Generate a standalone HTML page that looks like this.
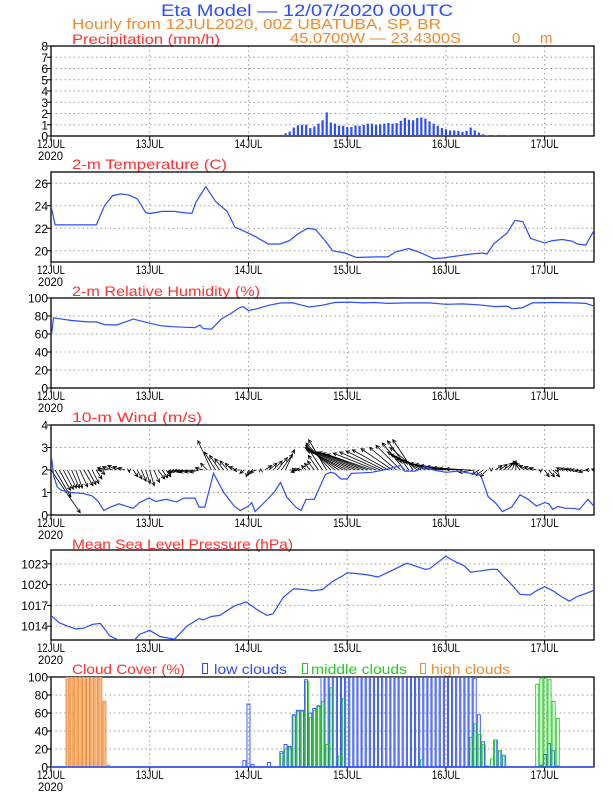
<!DOCTYPE html>
<html><head><meta charset="utf-8"><style>
html,body{margin:0;padding:0;background:#fff}
svg{display:block;font-family:"Liberation Sans",sans-serif}
</style></head><body>
<svg id="chart" width="612" height="792" viewBox="0 0 612 792" xmlns="http://www.w3.org/2000/svg">
<text x="161" y="16" font-size="17" fill="#2b4cff" textLength="292" lengthAdjust="spacingAndGlyphs">Eta Model — 12/07/2020 00UTC</text>
<text x="72" y="29" font-size="15" fill="#f08a30" textLength="369" lengthAdjust="spacingAndGlyphs">Hourly from 12JUL2020, 00Z  UBATUBA, SP, BR</text>
<text x="72" y="44" font-size="14" fill="#ff3030" textLength="148" lengthAdjust="spacingAndGlyphs">Precipitation (mm/h)</text>
<text x="290" y="43" font-size="15" fill="#f08a30" textLength="171" lengthAdjust="spacingAndGlyphs">45.0700W — 23.4300S</text>
<text x="512" y="43" font-size="15" fill="#f08a30">0</text>
<text x="540" y="43" font-size="15" fill="#f08a30">m</text>
<text x="72" y="169" font-size="14" fill="#ff3030" textLength="155" lengthAdjust="spacingAndGlyphs">2-m Temperature (C)</text>
<text x="72" y="296" font-size="14" fill="#ff3030" textLength="188" lengthAdjust="spacingAndGlyphs">2-m Relative Humidity (%)</text>
<text x="72" y="422" font-size="14" fill="#ff3030" textLength="130" lengthAdjust="spacingAndGlyphs">10-m Wind (m/s)</text>
<text x="72" y="549" font-size="14" fill="#ff3030" textLength="221" lengthAdjust="spacingAndGlyphs">Mean Sea Level Pressure (hPa)</text>
<text x="72" y="674" font-size="14" fill="#ff3030" textLength="113" lengthAdjust="spacingAndGlyphs">Cloud Cover (%)</text>
<rect x="202.5" y="663.5" width="5" height="10" fill="none" stroke="#2b4cff"/>
<text x="214" y="674" font-size="14" fill="#2b4cff" textLength="73" lengthAdjust="spacingAndGlyphs">low clouds</text>
<rect x="302.5" y="663.5" width="5" height="10" fill="none" stroke="#22cc22"/>
<text x="311" y="674" font-size="14" fill="#22cc22" textLength="96" lengthAdjust="spacingAndGlyphs">middle clouds</text>
<rect x="420.5" y="663.5" width="5" height="10" fill="none" stroke="#f08a30"/>
<text x="431" y="674" font-size="14" fill="#f08a30" textLength="79" lengthAdjust="spacingAndGlyphs">high clouds</text>
</svg>
<script>
const dayLabels=["12JUL","13JUL","14JUL","15JUL","16JUL","17JUL"];
const precipHours=[56,57,58,59,60,61,62,63,64,65,66,67,68,69,70,71,72,73,74,75,76,77,78,79,80,81,82,83,84,85,86,87,88,89,90,91,92,93,94,95,96,97,98,99,100,101,102,103,104,105,106,108,109,110,111];
const precipVals=[0.1,0.25,0.4,0.75,0.95,1.0,1.0,0.7,0.85,1.1,1.4,2.1,1.2,1.1,0.9,0.9,0.8,0.8,0.95,0.9,1.0,1.1,1.1,1.0,1.05,1.1,1.15,1.1,1.15,1.35,1.6,1.45,1.4,1.6,1.65,1.55,1.3,1.1,0.9,0.7,0.6,0.5,0.5,0.45,0.35,0.45,0.75,0.5,0.3,0.15,0.05,0.05,0.1,0.1,0.05];
const tempHours=[0,1,6,9,11,13,15,17,19,21,23,24,27,30,33,34.3,35.2,37.6,40,42.8,44.7,47.8,50,52.8,55.7,58,60,62.4,64.3,66.6,68.5,71.4,74.3,79,81.9,83.8,87,90,93,95,98,101.9,105,106,107.6,110.9,112.8,114.7,116.6,120,121.9,124.3,126.7,128,130,132];
const tempVals=[24.0,22.3,22.3,22.3,22.3,24.0,24.9,25.05,24.95,24.6,23.4,23.3,23.5,23.5,23.35,23.35,24.3,25.7,24.4,23.5,22.1,21.6,21.2,20.6,20.6,20.9,21.5,22.0,21.9,20.9,20.0,19.8,19.4,19.45,19.45,19.9,20.2,19.8,19.3,19.35,19.5,19.7,19.8,19.7,20.6,21.6,22.7,22.6,21.1,20.7,20.9,21.0,20.85,20.6,20.5,21.8];
const rhHours=[0,0.6,2,5,9,11,13,16,20,24,27,30,35,36.2,37,39,41.5,43.8,45.7,46.7,48,50,53,56,58.8,61,62.8,66,69,72.5,76,78.5,82,86.5,92,96,100,104,108,111,112,114.5,117,122,127,130,132];
const rhVals=[54,78,77,75,73.5,73.5,70.5,70,76.5,72,69,68,67,70,66,65.5,77,83,89,90.5,86,88,92,94.5,94.5,92,90,92,95,95.5,94.5,95,94,94.5,94.5,93,93.5,92.5,90.5,91,88,89,94.5,95,94.5,94,91];
const windHours=[0,0.7,1.5,2.5,5,8,10,11.5,12.8,14.5,16.5,18.5,20,21.5,23.8,25.5,28,30.5,32.3,35,36,37.4,39.5,42,44.5,46,48,48.8,49.6,51,54.2,55.8,57.3,59.5,60.8,62,64,66.7,68,69,70.5,72,73,78,82,85,86,88.5,91,93,96,99,102,104.5,106.3,108,109.7,112,114,116,118,120,121,122,123.2,125,127,128.5,130.5,132];
const windSpeed=[2.73,1.7,1.25,1.1,1.0,0.95,0.85,0.6,0.2,0.35,0.5,0.38,0.3,0.55,0.75,0.6,0.7,0.58,0.75,0.75,0.35,0.35,1.85,1.0,0.4,0.2,0.4,0.55,0.15,0.4,1.0,1.45,0.8,0.35,0.2,0.7,0.7,1.8,1.9,1.85,1.6,1.6,1.85,1.9,2.05,2.2,1.95,1.95,2.15,2.0,1.9,1.95,1.85,1.75,0.8,0.55,0.15,0.35,0.9,0.7,0.4,0.55,0.5,0.25,0.38,0.3,0.3,0.25,0.7,0.38];
const vecHours=[0,1,2,3,4,5,6,7,8,9,10,11,12,13,14,15,16,17,18,19,20,21,22,23,24,25,26,27,28,29,30,31,32,33,34,35,36,37,38,39,40,41,42,43,44,45,46,47,48,49,50,51,52,53,54,55,56,57,58,59,60,61,62,63,64,65,66,67,68,69,70,71,72,73,74,75,76,77,78,79,80,81,82,83,84,85,86,87,88,89,90,91,92,93,94,95,96,97,98,99,100,101,102,103,104,105,106,107,108,109,110,111,112,113,114,115,116,117,118,119,120,121,122,123,124,125,126,127,128,129,130,131,132];
const vecU=[1.3,0.7,0.5,0.45,0.4,0.35,0.3,0.35,0.4,0.35,0.3,0.25,0.2,-0.3,-0.5,-0.45,-0.4,-0.35,-0.3,0,0.2,0.2,0.2,0.2,0.2,0.25,0.3,0.25,0.2,0,-0.3,-0.35,-0.4,-0.45,-0.5,-0.45,-0.4,-0.35,-0.3,-0.6,-0.5,-0.45,-0.4,-0.35,-0.3,-0.3,-0.3,-0.2,-0.1,-0.2,-0.3,0,0.3,0.35,0.4,0.45,0.5,0.4,0.3,0,-0.3,-0.25,-0.2,-0.25,-0.3,-0.45,-0.6,-0.8,-1.1,-1.3,-1.5,-1.65,-1.8,-1.8,-1.8,-1.9,-2.0,-2.0,-2.0,-1.9,-1.8,-1.7,-1.6,-1.4,-1.2,-1.1,-1.0,-0.95,-0.9,-1.2,-1.5,-1.55,-1.6,-1.65,-1.7,-1.65,-1.6,-1.55,-1.5,-1.4,-1.3,-1.2,-1.1,-0.7,-0.3,-0.3,-0.3,0,0.3,0.35,0.4,0.3,0.2,0,-0.3,-0.35,-0.4,-0.35,-0.3,0,0.2,0.25,0.3,0.05,-0.2,-0.2,-0.2,-0.25,-0.3,-0.3,-0.3,-0.2,-0.1];
const vecV=[-1.9,-1.2,-0.9,-0.85,-0.8,-0.8,-0.8,-0.75,-0.7,-0.65,-0.6,-0.4,-0.2,0,0.1,0.15,0.2,0.15,0.1,-0.1,-0.3,-0.4,-0.5,-0.6,-0.7,-0.55,-0.4,-0.35,-0.3,-0.2,-0.1,-0.08,-0.05,-0.08,-0.1,-0.1,-0.1,0.1,0.3,1.3,0.8,0.65,0.5,0.4,0.3,0.15,0,-0.15,-0.3,-0.2,-0.1,0.05,0.2,0.3,0.4,0.55,0.7,0.9,0,-0.05,-0.1,0.05,0.2,0.3,0.4,0.65,0.9,1.35,1.2,1.1,1.0,0.95,0.9,0.85,0.8,0.8,0.8,0.75,0.7,0.75,0.8,0.85,0.9,0.95,1.0,1.1,1.2,1.3,1.35,1.0,0.8,0.7,0.6,0.5,0.4,0.35,0.3,0.25,0.2,0.15,0.1,0.08,0.05,-0.1,-0.2,-0.25,-0.3,-0.05,0.2,0.25,0.3,0.35,0.4,0.4,0.4,0.3,0.2,0.15,0.1,-0.1,-0.3,-0.3,-0.3,-0.1,0.1,0.08,0.05,0.02,0,-0.05,-0.1,0,0.05];
const presHours=[0,2,4,6,8,10,12,14.3,16,18,20,21.5,24,26.5,30,33,36,37,39,41,44.5,47.5,50,52.5,54,56.5,59,61.5,63.5,66,68.5,71,72,74,77,79.5,82,86.5,88.5,91,92,96,98,100.5,102,104.5,107,108.5,110,112,114,116.5,118,120,122,124,126,128,130,132];
const presVals=[1015.55,1014.5,1014.0,1013.6,1013.7,1014.25,1014.4,1012.6,1012.1,1011.5,1011.8,1012.8,1013.4,1012.5,1012.1,1014.0,1015.1,1014.9,1015.4,1015.55,1016.9,1017.5,1016.4,1015.55,1015.8,1018.2,1019.4,1019.3,1019.1,1019.3,1020.5,1021.3,1021.7,1021.6,1021.4,1021.1,1021.8,1023.1,1022.7,1022.2,1022.3,1024.1,1023.4,1022.7,1021.8,1022.0,1022.2,1022.2,1021.2,1020.0,1018.6,1018.5,1019.1,1019.7,1019.1,1018.3,1017.6,1018.3,1018.7,1019.2];
const highHours=[4,5,6,7,8,9,10,11,12,13,14];
const highVals=[100,100,100,100,100,100,100,100,100,73,2];
const lowHours=[47,48,49,53,56,57,58,59,60,61,62,63,64,65,66,67,68,69,70,71,72,73,74,75,76,77,78,79,80,81,82,83,84,85,86,87,88,89,90,91,92,93,94,95,96,97,98,99,100,101,102,103,104,105,106,108,109,110,119,120,121,122,123];
const lowVals=[7,70,3,5,17,25,23,58,63,63,97,60,65,68,100,100,100,100,100,100,100,100,100,100,100,100,100,100,100,100,100,100,100,100,100,100,100,100,100,100,100,100,100,100,100,100,100,100,100,100,100,98,58,28,1,30,18,13,2,14,26,18,1];
const midHours=[56,57,58,59,60,61,62,63,64,65,66,67,68,70,71,90,102,103,104,105,107,108,109,110,118,119,120,121,122,123];
const midVals=[15,20,22,57,62,62,95,55,63,67,73,25,88,12,76,8,33,48,36,25,9,30,18,13,92,98,98,97,73,54];

const NS="http://www.w3.org/2000/svg";
const svg=document.getElementById('chart');
const X0=51,X1=594,HMAX=132;
const BLUE="#2b4cff";
function xs(h){return X0+h*(X1-X0)/HMAX;}
function mk(tag,attrs,parent){const e=document.createElementNS(NS,tag);for(const k in attrs)e.setAttribute(k,attrs[k]);(parent||svg).appendChild(e);return e;}
function panel(name,top,bottom,min,max,ticks){
  const g=mk('g',{});
  
  
  const ys=v=>bottom-(v-min)/(max-min)*(bottom-top);
  for(let d=1;d<=5;d++){const x=xs(d*24);const l=mk('line',{x1:x,x2:x,y1:top,y2:bottom,stroke:'#999','stroke-dasharray':'1.5,3'},g);
    
    }
  ticks.forEach(t=>{const y=ys(t);
    const l=mk('line',{x1:X0,x2:X1,y1:y,y2:y,stroke:'#999','stroke-dasharray':'1.5,3'},g);
    
    
    const tk=mk('line',{x1:X0-4,x2:X0,y1:y,y2:y,stroke:'#000'},g);
    
    
    const tx=mk('text',{x:X0-3,y:y+4.5,'font-size':12,'text-anchor':'end',fill:'#000'},g);tx.textContent=t;
    
    });
  const fr=mk('rect',{x:X0,y:top,width:X1-X0,height:bottom-top,fill:'none',stroke:'#000','stroke-width':1.3},g);
  
  
  dayLabels.forEach((lab,i)=>{const x=xs(i*24);
    const tk=mk('line',{x1:x,x2:x,y1:bottom,y2:bottom+4,stroke:'#000'},g);
    
    
    const tx=mk('text',{x:x,y:bottom+12,'font-size':11.5,'text-anchor':'middle',fill:'#000',textLength:28,lengthAdjust:'spacingAndGlyphs'},g);tx.textContent=lab;
    
    });
  const yr=mk('text',{x:38,y:bottom+24,'font-size':11.5,fill:'#000',textLength:25,lengthAdjust:'spacingAndGlyphs'},g);yr.textContent='2020';
  
  
  const clip=mk('clipPath',{id:'clip-'+name},g);mk('rect',{x:X0,y:top,width:X1-X0,height:bottom-top},clip);
  const data=mk('g',{'clip-path':'url(#clip-'+name+')'},g);
  return {g:data,ys};
}
function line(p,hours,vals,name){
  const d=hours.map((h,i)=>(i?'L':'M')+xs(h).toFixed(1)+','+p.ys(vals[i]).toFixed(1)).join('');
  const e=mk('path',{d:d,fill:'none',stroke:BLUE,'stroke-width':1.2},p.g);
  
  
}
const p1=panel('precip',46,136,0,8,[0,1,2,3,4,5,6,7,8]);
precipHours.forEach((h,i)=>{const y=p1.ys(precipVals[i]);
  const b=mk('rect',{x:xs(h)-1,y:y,width:2.2,height:136-y,fill:BLUE},p1.g);
  
  });
const p2=panel('temperature',172,262,19,27,[20,22,24,26]);
line(p2,tempHours,tempVals,'temperature-line');
const p3=panel('humidity',298,388,0,100,[0,20,40,60,80,100]);
line(p3,rhHours,rhVals,'humidity-line');
const p4=panel('wind',425,515,0,4,[0,1,2,3,4]);
const wsc=(p4.ys(0)-p4.ys(1));
vecHours.forEach((h,i)=>{const x0=xs(h),y0=p4.ys(2);const x1=x0+vecU[i]*wsc,y1=y0-vecV[i]*wsc;
  const ang=Math.atan2(y1-y0,x1-x0),L=4;
  const d='M'+x0+','+y0+'L'+x1+','+y1+'M'+(x1-L*Math.cos(ang-0.45))+','+(y1-L*Math.sin(ang-0.45))+'L'+x1+','+y1+'L'+(x1-L*Math.cos(ang+0.45))+','+(y1-L*Math.sin(ang+0.45));
  const a=mk('path',{d:d,stroke:'#000','stroke-width':0.8,fill:'none'},p4.g);
  
  });
line(p4,windHours,windSpeed,'wind-speed-line');
const p5=panel('pressure',550,640,1012,1025,[1014,1017,1020,1023]);
line(p5,presHours,presVals,'pressure-line');
const p6=panel('cloud',677,767,0,100,[0,20,40,60,80,100]);
function cbars(hours,vals,col,fill,off,name){hours.forEach((h,i)=>{const y=p6.ys(vals[i]);
  const b=mk('rect',{x:xs(h)-1.5+off,y:y,width:3,height:767-y,fill:fill,stroke:col,'stroke-width':0.9},p6.g);
  
  });}
cbars(highHours,highVals,'#f08a30','#f8c090',0,'high-cloud-bar');
cbars(lowHours,lowVals,BLUE,'none',0,'low-cloud-bar');
cbars(midHours,midVals,'#22cc22','none',0.8,'middle-cloud-bar');
const base=mk('line',{x1:X0,x2:X1,y1:767,y2:767,stroke:BLUE,'stroke-width':1.5});


</script>
</body></html>
